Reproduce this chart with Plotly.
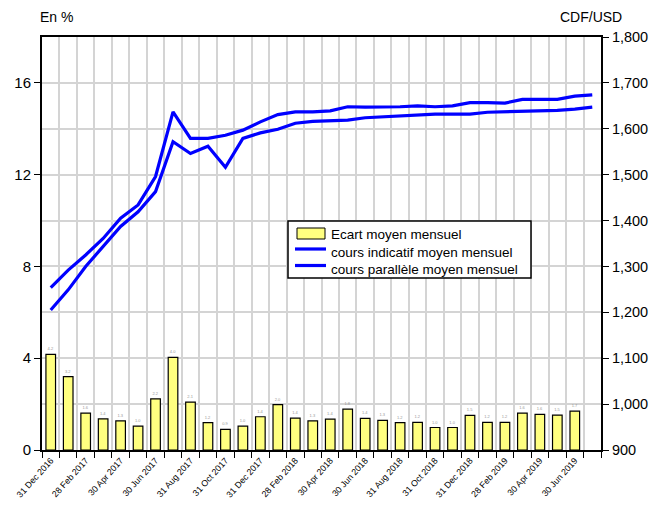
import plotly.graph_objects as go

mois = ["31 Dec 2016", "31 Jan 2017", "28 Feb 2017", "31 Mar 2017", "30 Apr 2017", "31 May 2017",
        "30 Jun 2017", "31 Jul 2017", "31 Aug 2017", "30 Sep 2017", "31 Oct 2017", "30 Nov 2017",
        "31 Dec 2017", "31 Jan 2018", "28 Feb 2018", "31 Mar 2018", "30 Apr 2018", "31 May 2018",
        "30 Jun 2018", "31 Jul 2018", "31 Aug 2018", "30 Sep 2018", "31 Oct 2018", "30 Nov 2018",
        "31 Dec 2018", "31 Jan 2019", "28 Feb 2019", "31 Mar 2019", "30 Apr 2019", "31 May 2019",
        "30 Jun 2019", "31 Jul 2019"]

# ecart moyen mensuel (en %), pas de barre pour juillet 2019
ecart = [4.17, 3.2, 1.61, 1.36, 1.27, 1.04, 2.23, 4.04, 2.09, 1.19, 0.9, 1.04,
         1.45, 1.98, 1.39, 1.27, 1.35, 1.78, 1.38, 1.29, 1.19, 1.2, 0.98, 0.98,
         1.51, 1.2, 1.2, 1.61, 1.55, 1.52, 1.69, None]

indicatif = [1205, 1249, 1300, 1343, 1387, 1419, 1463, 1572, 1546, 1562, 1516, 1579,
             1591, 1599, 1612, 1616, 1618, 1619, 1624, 1626, 1628, 1630, 1632, 1632,
             1632, 1636, 1637, 1638, 1639, 1640, 1643, 1647]

parallele = [1254, 1292, 1325, 1361, 1405, 1434, 1496, 1637, 1579, 1579, 1586, 1597,
             1615, 1631, 1637, 1637, 1639, 1648, 1647, 1647, 1648, 1650, 1648, 1650,
             1657, 1657, 1656, 1664, 1664, 1664, 1671, 1674]

noms = ["Ecart moyen mensuel", "cours indicatif moyen mensuel", "cours parallèle moyen mensuel"]

# une etiquette sur deux
etiquettes = [m if i % 2 == 0 else "" for i, m in enumerate(mois)]

FONT = "Liberation Sans, Arial, sans-serif"
JAUNE = "#FFFF80"
BLEU = "#0000FF"

# zone de trace en pixels (pour placer la legende a la main)
L, R, T, B = 42, 601, 37, 450


def px(x):
    return (x - L) / (R - L)


def py(y):
    return (B - y) / (B - T)


fig = go.Figure()
fig.add_trace(go.Bar(
    x=mois, y=ecart, name=noms[0],
    marker=dict(color=JAUNE, line=dict(color="black", width=1.2)),
    width=0.55,
    texttemplate="%{y:.1f}", textposition="outside",
    textfont=dict(size=4, color="#999999"), cliponaxis=False,
))
fig.add_trace(go.Scatter(
    x=mois, y=indicatif, name=noms[1],
    mode="lines", line=dict(color=BLEU, width=3.2), yaxis="y2",
))
fig.add_trace(go.Scatter(
    x=mois, y=parallele, name=noms[2],
    mode="lines", line=dict(color=BLEU, width=3.2), yaxis="y2",
))

fig.update_layout(
    width=666, height=509,
    margin=dict(l=L, r=666 - R, t=T, b=509 - B),
    paper_bgcolor="white", plot_bgcolor="white",
    font=dict(family=FONT, color="black"),
    showlegend=False,
    bargap=0.45,
    xaxis=dict(
        type="category", categoryorder="array", categoryarray=mois,
        tickmode="array", tickvals=mois, ticktext=etiquettes,
        tickson="boundaries", ticks="outside", ticklen=6, tickcolor="black",
        tickangle=-48, tickfont=dict(size=8.8),
        showgrid=True, gridcolor="#D4D4D4", gridwidth=1.5,
        showline=True, linecolor="black", linewidth=2, mirror=True,
        range=[-0.5, 31.5], automargin=False,
    ),
    yaxis=dict(
        range=[0, 18], tickvals=[0, 4, 8, 12, 16],
        ticks="outside", ticklen=6, tickcolor="black",
        tickfont=dict(size=15),
        showgrid=True, gridcolor="#D4D4D4", gridwidth=1.5,
        minor=dict(dtick=2, showgrid=True, gridcolor="#D4D4D4", gridwidth=1.5),
        showline=True, linecolor="black", linewidth=2,
        zeroline=False, automargin=False,
    ),
    yaxis2=dict(
        range=[900, 1800], dtick=100, tickformat=",",
        overlaying="y", side="right",
        ticks="outside", ticklen=6, tickcolor="black",
        tickfont=dict(size=14.5),
        showgrid=False, zeroline=False,
        showline=True, linecolor="black", linewidth=2, automargin=False,
    ),
)

# legende dessinee a la main (boite, symboles, textes)
fig.add_shape(type="rect", xref="paper", yref="paper",
              x0=px(288), x1=px(531), y0=py(221), y1=py(278),
              fillcolor="white", line=dict(color="black", width=1.5), layer="above")
fig.add_shape(type="rect", xref="paper", yref="paper",
              x0=px(297), x1=px(325), y0=py(228), y1=py(239),
              fillcolor=JAUNE, line=dict(color="black", width=1), layer="above")
for yy in (249, 265.5):
    fig.add_shape(type="line", xref="paper", yref="paper",
                  x0=px(295), x1=px(326), y0=py(yy), y1=py(yy),
                  line=dict(color=BLEU, width=3.2), layer="above")
fig.add_annotation(text="<br>".join(noms), xref="paper", yref="paper",
                   x=px(329), y=py(225), xanchor="left", yanchor="top", align="left",
                   showarrow=False, font=dict(size=13.5))

fig.add_annotation(text="En %", xref="paper", yref="paper", x=px(38), y=py(27),
                   xanchor="left", yanchor="bottom", showarrow=False, font=dict(size=14))
fig.add_annotation(text="CDF/USD", xref="paper", yref="paper", x=px(624), y=py(27),
                   xanchor="right", yanchor="bottom", showarrow=False, font=dict(size=14))

# pas de marge de page autour du graphique, pas de barre d'outils
fig.write_html("out.html", config={"displayModeBar": False},
               post_script="document.body.style.margin='0';")
